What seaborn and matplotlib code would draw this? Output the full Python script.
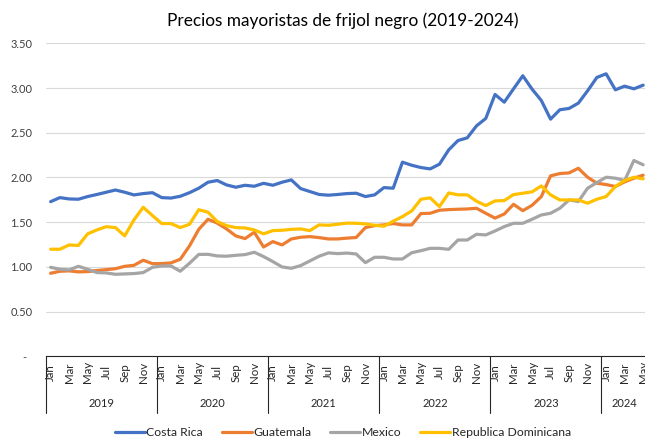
import pandas as pd
import numpy as np
import matplotlib
matplotlib.use("Agg")
import matplotlib.pyplot as plt
import matplotlib.transforms as mtransforms
import seaborn as sns

# Monthly wholesale prices, Jan 2019 - May 2024
years = [2019] * 12 + [2020] * 12 + [2021] * 12 + [2022] * 12 + [2023] * 12 + [2024] * 5
months = ["Jan", "Feb", "Mar", "Apr", "May", "Jun", "Jul", "Aug", "Sep", "Oct", "Nov", "Dec"] * 5 + \
         ["Jan", "Feb", "Mar", "Apr", "May"]

costa_rica = [1.73, 1.775, 1.76, 1.757, 1.787, 1.81, 1.835, 1.86, 1.835, 1.805, 1.82, 1.83,
              1.775, 1.77, 1.79, 1.83, 1.88, 1.947, 1.966, 1.917, 1.891, 1.913, 1.902, 1.935,
              1.913, 1.947, 1.973, 1.876, 1.843, 1.81, 1.802, 1.81, 1.82, 1.824, 1.787, 1.806,
              1.887, 1.88, 2.171, 2.137, 2.111, 2.096, 2.149, 2.309, 2.413, 2.443, 2.577, 2.66,
              2.928, 2.842, 2.991, 3.137, 2.988, 2.861, 2.652, 2.757, 2.772, 2.831, 2.969, 3.118,
              3.159, 2.98, 3.021, 2.991, 3.032]
guatemala = [0.929, 0.952, 0.956, 0.945, 0.948, 0.96, 0.97, 0.98, 1.007, 1.018, 1.075, 1.037,
             1.037, 1.045, 1.086, 1.235, 1.42, 1.533, 1.49, 1.425, 1.347, 1.317, 1.388, 1.223,
             1.283, 1.246, 1.313, 1.332, 1.339, 1.328, 1.313, 1.313, 1.322, 1.329, 1.44, 1.462,
             1.47, 1.485, 1.47, 1.47, 1.597, 1.6, 1.634, 1.641, 1.645, 1.648, 1.656, 1.6,
             1.546, 1.592, 1.7, 1.629, 1.689, 1.786, 2.018, 2.044, 2.051, 2.103, 2.003, 1.936,
             1.921, 1.899, 1.951, 1.992, 2.026]
mexico = [0.996, 0.974, 0.967, 1.007, 0.974, 0.937, 0.933, 0.918, 0.922, 0.926, 0.937, 0.996,
          1.011, 1.011, 0.952, 1.041, 1.14, 1.141, 1.123, 1.12, 1.13, 1.138, 1.164, 1.116,
          1.06, 1.0, 0.985, 1.015, 1.067, 1.12, 1.157, 1.149, 1.155, 1.145, 1.048, 1.108,
          1.108, 1.089, 1.089, 1.159, 1.182, 1.208, 1.208, 1.197, 1.301, 1.301, 1.365, 1.358,
          1.402, 1.451, 1.488, 1.488, 1.533, 1.581, 1.6, 1.656, 1.749, 1.731, 1.88, 1.943,
          2.003, 1.992, 1.966, 2.19, 2.142]
rep_dominicana = [1.198, 1.198, 1.246, 1.24, 1.37, 1.414, 1.45, 1.44, 1.347, 1.526, 1.667, 1.574,
                  1.485, 1.485, 1.44, 1.477, 1.64, 1.612, 1.507, 1.462, 1.44, 1.436, 1.414, 1.37,
                  1.406, 1.41, 1.42, 1.425, 1.406, 1.47, 1.466, 1.477, 1.49, 1.488, 1.481, 1.466,
                  1.455, 1.511, 1.563, 1.626, 1.757, 1.772, 1.675, 1.827, 1.806, 1.806, 1.735, 1.686,
                  1.738, 1.742, 1.809, 1.824, 1.839, 1.906, 1.806, 1.749, 1.749, 1.749, 1.712, 1.757,
                  1.787, 1.899, 1.966, 2.003, 1.985]

paises = ["Costa Rica", "Guatemala", "Mexico", "Republica Dominicana"]
colores = ["#4472C4", "#ED7D31", "#A5A5A5", "#FFC000"]
y_ticks = [0, 0.5, 1.0, 1.5, 2.0, 2.5, 3.0, 3.5]
y_labels = ["-  ", "0.50", "1.00", "1.50", "2.00", "2.50", "3.00", "3.50"]

# Long format for seaborn
idx = np.arange(len(years))
df = pd.concat([
    pd.DataFrame({"idx": idx, "precio": vals, "pais": p})
    for p, vals in zip(paises, [costa_rica, guatemala, mexico, rep_dominicana])
])

sns.set_style("white")
plt.rcParams["font.family"] = ["Lato", "DejaVu Sans"]

fig = plt.figure(figsize=(6.45, 4.38), dpi=100)
W, H = 645, 438
ax = fig.add_axes([46 / W, 1 - 356.4 / H, 599 / W, 313.1 / H])

sns.lineplot(data=df, x="idx", y="precio", hue="pais", hue_order=paises,
             palette=dict(zip(paises, colores)), linewidth=2.3, ax=ax)

ax.set_xlim(-0.5, 64.2)
ax.set_ylim(0, 3.5)
ax.set_xlabel("")
ax.set_ylabel("")

# y axis
ax.set_yticks(y_ticks, y_labels)
ax.tick_params(axis="y", length=0, pad=9.8, labelsize=8, labelcolor="#404040")
ax.grid(axis="y", color="#D9D9D9", linewidth=0.8)
for s in ["left", "right", "top"]:
    ax.spines[s].set_visible(False)
ax.spines["bottom"].set_color("#262626")
ax.spines["bottom"].set_linewidth(0.8)

# month labels (every other month)
ax.set_xticks(idx[::2], [months[i] for i in idx[::2]], rotation=90, va="center")
ax.tick_params(axis="x", length=0, pad=11.5, labelsize=8.3, labelcolor="#262626")

# year labels and dividers
trans = mtransforms.blended_transform_factory(ax.transData, ax.transAxes)
yrs = sorted(set(years))
for yr in yrs:
    pos = [i for i in idx if years[i] == yr]
    ax.text(np.mean(pos), -0.149, str(yr), transform=trans, ha="center", va="center",
            fontsize=8, color="#262626")
    ax.plot([pos[0] - 0.5, pos[0] - 0.5], [0, -0.181], transform=trans, color="#262626",
            linewidth=0.8, clip_on=False)

# title and legend
fig.text(343 / W, 1 - 21 / H, "Precios mayoristas de frijol negro (2019-2024)",
         ha="center", va="center", fontsize=12.4, color="#000000")
handles, labels = ax.get_legend_handles_labels()
ax.legend(handles, labels, loc="center", bbox_to_anchor=(343 / W, 1 - 433 / H),
          bbox_transform=fig.transFigure, ncol=4, frameon=False, fontsize=8.8,
          handlelength=2.45, handletextpad=0.12, columnspacing=1.55, borderpad=0)

fig.savefig("out.png", dpi=100)
